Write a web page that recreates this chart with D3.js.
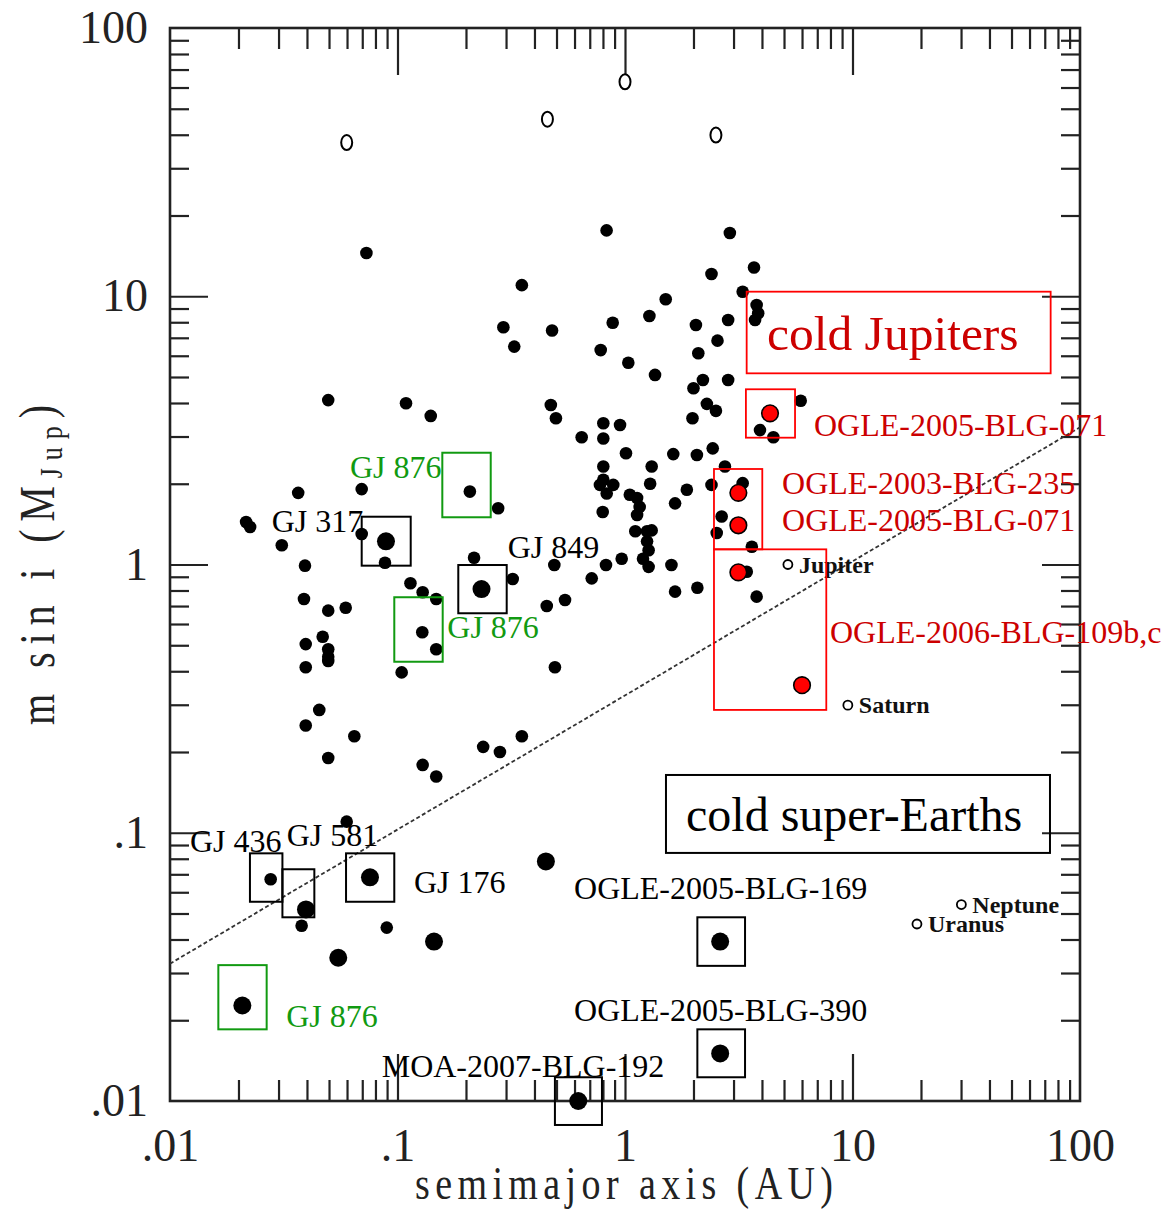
<!DOCTYPE html>
<html>
<head>
<meta charset="utf-8">
<script src="https://cdn.jsdelivr.net/npm/d3@7"></script>
<style>
  body { margin: 0; background: #fff; }
  svg { display: block; }
</style>
</head>
<body>
<script>
// semimajor axis (AU), m sin i (M_Jup)
const knownPlanets = [
  [0.073, 14.5], [0.352, 11.0], [0.83, 17.6], [2.89, 17.2], [2.40, 12.1], [3.69, 12.8],
  [3.29, 10.4], [3.79, 9.28], [3.85, 8.64], [3.73, 8.16], [1.51, 9.74], [1.28, 8.44],
  [0.883, 7.97], [2.05, 7.81], [2.84, 8.16], [2.55, 6.83], [2.10, 6.13], [0.782, 6.30],
  [1.034, 5.65], [1.355, 5.09], [2.20, 4.87], [2.00, 4.54], [2.84, 4.87], [2.29, 3.97],
  [2.51, 3.74], [1.98, 3.51], [5.92, 4.08], [3.92, 3.17], [4.49, 2.98], [0.497, 3.51],
  [0.472, 3.93], [0.803, 3.36], [0.951, 3.31], [0.803, 2.95], [0.645, 2.98], [1.01, 2.60],
  [1.63, 2.58], [2.07, 2.56], [2.43, 2.71], [0.803, 2.32], [0.803, 2.07], [1.31, 2.32],
  [1.29, 2.00], [0.776, 1.98], [0.888, 1.98], [0.831, 1.84], [1.05, 1.82], [1.13, 1.77],
  [1.16, 1.64], [1.13, 1.53], [1.87, 1.90], [1.66, 1.69], [2.40, 1.98], [2.75, 2.32],
  [3.29, 2.01], [2.66, 1.51], [2.53, 1.31], [0.798, 1.57], [1.11, 1.33], [1.25, 1.33],
  [1.31, 1.34], [1.25, 1.22], [1.27, 1.13], [1.20, 1.05], [1.27, 0.98], [1.60, 0.996],
  [0.967, 1.05], [0.825, 0.996], [0.714, 0.888], [1.66, 0.792], [2.08, 0.819], [3.61, 1.165],
  [3.43, 0.940], [3.79, 0.759], [0.545, 0.737], [0.453, 0.700], [0.492, 0.414], [0.489, 0.996],
  [0.321, 0.883], [0.217, 1.06], [0.277, 1.62], [0.208, 1.87], [0.0696, 1.91], [0.0366, 1.85],
  [0.0216, 1.44], [0.0225, 1.38], [0.031, 1.18], [0.0696, 1.30], [0.0881, 1.015], [0.0392, 0.99],
  [0.114, 0.851], [0.129, 0.788], [0.148, 0.744], [0.0388, 0.744], [0.0496, 0.673], [0.0592, 0.690],
  [0.1285, 0.559], [0.148, 0.483], [0.0395, 0.505], [0.0469, 0.538], [0.0496, 0.483], [0.0496, 0.453],
  [0.0496, 0.437], [0.0395, 0.414], [0.1043, 0.396], [0.0453, 0.287], [0.0395, 0.251], [0.0646, 0.229],
  [0.0496, 0.190], [0.129, 0.179], [0.148, 0.162], [0.238, 0.209], [0.282, 0.200], [0.352, 0.229],
  [0.0496, 4.10], [0.109, 3.99], [0.140, 3.58], [0.292, 7.66], [0.326, 6.49], [0.478, 7.45],
  [0.0598, 0.110], [0.0379, 0.045], [0.0897, 0.0443], [0.0277, 0.0671]
];

// low-mass planets around M dwarfs and microlensing super-Earths
const bigPlanets = [
  [0.089, 1.22], [0.234, 0.810], [0.0396, 0.0518], [0.0757, 0.0682], [0.0549, 0.0342],
  [0.1447, 0.0393], [0.449, 0.0782], [0.0208, 0.0227], [0.623, 0.0100], [2.62, 0.0393],
  [2.62, 0.01505]
];

// microlensing cold Jupiters
const coldJupiters = [[4.34, 3.66], [3.15, 1.85], [3.15, 1.40], [3.15, 0.935], [6.0, 0.355]];

const openPoints = [[0.0598, 37.4], [0.456, 45.7], [1.0, 63], [2.51, 39.9]];

const solarNames = ["Jupiter", "Saturn", "Uranus", "Neptune"];
const solarA = [5.2, 9.54, 19.2, 30.1];
const solarM = [1.0, 0.299, 0.0457, 0.054];

// a^(1/2) dividing line, end points
const dividerLine = [[0.01, 0.0325], [100, 3.25]];

const tickValues = [0.01, 0.1, 1, 10, 100];
const tickLabels = [".01", ".1", "1", "10", "100"];

// boxes: [a0, a1, m0, m1]
const blackBoxes = [
  [0.0696, 0.1143, 0.990, 1.507], [0.185, 0.302, 0.658, 0.9956], [0.02246, 0.0312, 0.0553, 0.0838],
  [0.0312, 0.0431, 0.0484, 0.0731], [0.0594, 0.0968, 0.0553, 0.0838], [2.08, 3.37, 0.0319, 0.0484],
  [2.08, 3.37, 0.01226, 0.0185], [0.492, 0.792, 0.00814, 0.01226], [1.514, 73.8, 0.0841, 0.1642]
];
const greenBoxes = [
  [0.1574, 0.2569, 1.50, 2.61], [0.0968, 0.158, 0.434, 0.755], [0.01631, 0.0266, 0.0185, 0.0321]
];
const redBoxes = [
  [3.426, 74.3, 5.16, 10.4], [3.40, 5.59, 2.97, 4.50], [2.461, 4.013, 1.139, 2.27], [2.461, 7.67, 0.287, 1.139]
];

// labels: [text, a, m] (a, m = left baseline point)
const blackLabels = [
  ["GJ 317", 0.0280, 1.325], ["GJ 849", 0.305, 1.06], ["GJ 436", 0.01224, 0.0850],
  ["GJ 581", 0.0326, 0.0893], ["GJ 176", 0.1181, 0.0595], ["MOA-2007-BLG-192", 0.0852, 0.01232],
  ["OGLE-2005-BLG-169", 0.597, 0.0565], ["OGLE-2005-BLG-390", 0.597, 0.01993]
];
const greenLabels = [["GJ 876", 0.0618, 2.10], ["GJ 876", 0.1655, 0.534], ["GJ 876", 0.0324, 0.01883]];
const redLabels = [
  ["OGLE-2005-BLG-071", 6.77, 3.01], ["OGLE-2003-BLG-235", 4.90, 1.83],
  ["OGLE-2005-BLG-071", 4.90, 1.333], ["OGLE-2006-BLG-109b,c", 7.96, 0.510]
];
const headings = [["cold Jupiters", 4.21, 6.30, "#cc0000"], ["cold super-Earths", 1.854, 0.1016, "#000"]];

const width = 1166, height = 1212;
const serif = "'Liberation Serif', 'Times New Roman', serif";

const svg = d3.select("body").append("svg").attr("width", width).attr("height", height);
svg.append("rect").attr("width", width).attr("height", height).attr("fill", "#fff");

const x = d3.scaleLog().domain([0.01, 100]).range([170, 1080]);
const y = d3.scaleLog().domain([0.01, 100]).range([1101, 28]);

function isMajor(v) {
  const l = Math.log10(v);
  return Math.abs(l - Math.round(l)) < 1e-9;
}
const innerX = x.ticks().filter((v) => v > 0.0100001 && v < 99.999);
const innerY = y.ticks().filter((v) => v > 0.0100001 && v < 99.999);
const minorX = innerX.filter((v) => !isMajor(v));
const majorX = innerX.filter(isMajor);
const minorY = innerY.filter((v) => !isMajor(v));
const majorY = innerY.filter(isMajor);

function tickAxis(axis, vals, size, tr) {
  const g = svg.append("g").attr("transform", tr)
    .call(axis.tickValues(vals).tickSize(-size).tickFormat(""));
  g.select(".domain").remove();
  g.selectAll(".tick line").attr("stroke", "#222").attr("stroke-width", 2.2);
}
tickAxis(d3.axisBottom(x), minorX, 21, `translate(0,${y(0.01)})`);
tickAxis(d3.axisBottom(x), majorX, 47, `translate(0,${y(0.01)})`);
tickAxis(d3.axisTop(x), minorX, 21, `translate(0,${y(100)})`);
tickAxis(d3.axisTop(x), majorX, 47, `translate(0,${y(100)})`);
tickAxis(d3.axisLeft(y), minorY, 19, `translate(${x(0.01)},0)`);
tickAxis(d3.axisLeft(y), majorY, 38, `translate(${x(0.01)},0)`);
tickAxis(d3.axisRight(y), minorY, 19, `translate(${x(100)},0)`);
tickAxis(d3.axisRight(y), majorY, 38, `translate(${x(100)},0)`);

svg.append("rect")
  .attr("x", x(0.01)).attr("y", y(100))
  .attr("width", x(100) - x(0.01)).attr("height", y(0.01) - y(100))
  .attr("fill", "none").attr("stroke", "#222").attr("stroke-width", 2.6);

// tick labels
const xLab = svg.append("g").attr("transform", `translate(0,${y(0.01)})`)
  .call(d3.axisBottom(x).tickValues(tickValues).tickSize(0).tickPadding(27)
    .tickFormat((d, i) => tickLabels[i]));
xLab.select(".domain").remove();
xLab.selectAll("text").attr("font-family", serif).attr("font-size", 46).attr("fill", "#222");

const yLab = svg.append("g").attr("transform", `translate(${x(0.01)},0)`)
  .call(d3.axisLeft(y).tickValues(tickValues).tickSize(0).tickPadding(22)
    .tickFormat((d, i) => tickLabels[i]));
yLab.select(".domain").remove();
yLab.selectAll("text").attr("font-family", serif).attr("font-size", 46).attr("fill", "#222");

// axis titles
svg.append("text")
  .attr("transform", "translate(415,1199) scale(1,1.22)")
  .attr("font-family", serif).attr("font-size", 38).attr("fill", "#222")
  .attr("textLength", 418).attr("lengthAdjust", "spacing")
  .text("semimajor axis (AU)");

const yTitle = svg.append("text")
  .attr("transform", "translate(54,725) rotate(-90) scale(1,1.25)")
  .attr("font-family", serif).attr("font-size", 40).attr("fill", "#222")
  .attr("textLength", 320).attr("lengthAdjust", "spacing");
yTitle.append("tspan").text("m sin i (M");
yTitle.append("tspan").attr("font-size", 26).attr("dy", 6).text("Jup");
yTitle.append("tspan").attr("dy", -6).text(")");

// a^(1/2) line
svg.append("path")
  .datum(dividerLine)
  .attr("d", d3.line().x((d) => x(d[0])).y((d) => y(d[1])))
  .attr("fill", "none").attr("stroke", "#333").attr("stroke-width", 1.8)
  .attr("stroke-dasharray", "4,2.5");

// points
svg.append("g").selectAll("circle").data(knownPlanets).enter().append("circle")
  .attr("cx", (d) => x(d[0])).attr("cy", (d) => y(d[1])).attr("r", 6.3).attr("fill", "#000");

svg.append("g").selectAll("circle").data(bigPlanets).enter().append("circle")
  .attr("cx", (d) => x(d[0])).attr("cy", (d) => y(d[1])).attr("r", 9).attr("fill", "#000");

svg.append("g").selectAll("circle").data(coldJupiters).enter().append("circle")
  .attr("cx", (d) => x(d[0])).attr("cy", (d) => y(d[1])).attr("r", 8.3)
  .attr("fill", "#ff0000").attr("stroke", "#000").attr("stroke-width", 1.6);

svg.append("g").selectAll("ellipse").data(openPoints).enter().append("ellipse")
  .attr("cx", (d) => x(d[0])).attr("cy", (d) => y(d[1])).attr("rx", 5.5).attr("ry", 7.5)
  .attr("fill", "#fff").attr("stroke", "#000").attr("stroke-width", 2);

const solar = svg.append("g").selectAll("g").data(solarNames).enter().append("g")
  .attr("transform", (d, i) => `translate(${x(solarA[i])},${y(solarM[i])})`);
solar.append("circle").attr("r", 4.5).attr("fill", "#fff").attr("stroke", "#000").attr("stroke-width", 1.8);
solar.append("text").attr("x", 11).attr("y", 8)
  .attr("font-family", serif).attr("font-weight", "bold").attr("font-size", 24).attr("fill", "#111")
  .text((d) => d);

// boxes
function drawBoxes(list, color, w) {
  svg.append("g").selectAll("rect").data(list).enter().append("rect")
    .attr("x", (d) => x(d[0])).attr("y", (d) => y(d[3]))
    .attr("width", (d) => x(d[1]) - x(d[0])).attr("height", (d) => y(d[2]) - y(d[3]))
    .attr("fill", "none").attr("stroke", color).attr("stroke-width", w);
}
drawBoxes(blackBoxes, "#000", 2);
drawBoxes(greenBoxes, "#119a11", 2);
drawBoxes(redBoxes, "#ff0000", 1.8);

// labels
function drawLabels(list, color, size) {
  svg.append("g").selectAll("text").data(list).enter().append("text")
    .attr("x", (d) => x(d[1])).attr("y", (d) => y(d[2]))
    .attr("font-family", serif).attr("font-size", size).attr("fill", color)
    .text((d) => d[0]);
}
drawLabels(blackLabels, "#000", 32);
drawLabels(greenLabels, "#119a11", 32);
drawLabels(redLabels, "#cc0000", 32);

svg.append("g").selectAll("text").data(headings).enter().append("text")
  .attr("x", (d) => x(d[1])).attr("y", (d) => y(d[2]))
  .attr("font-family", serif).attr("font-size", (d, i) => (i === 0 ? 49.5 : 48)).attr("fill", (d) => d[3])
  .text((d) => d[0]);
</script>
</body>
</html>
